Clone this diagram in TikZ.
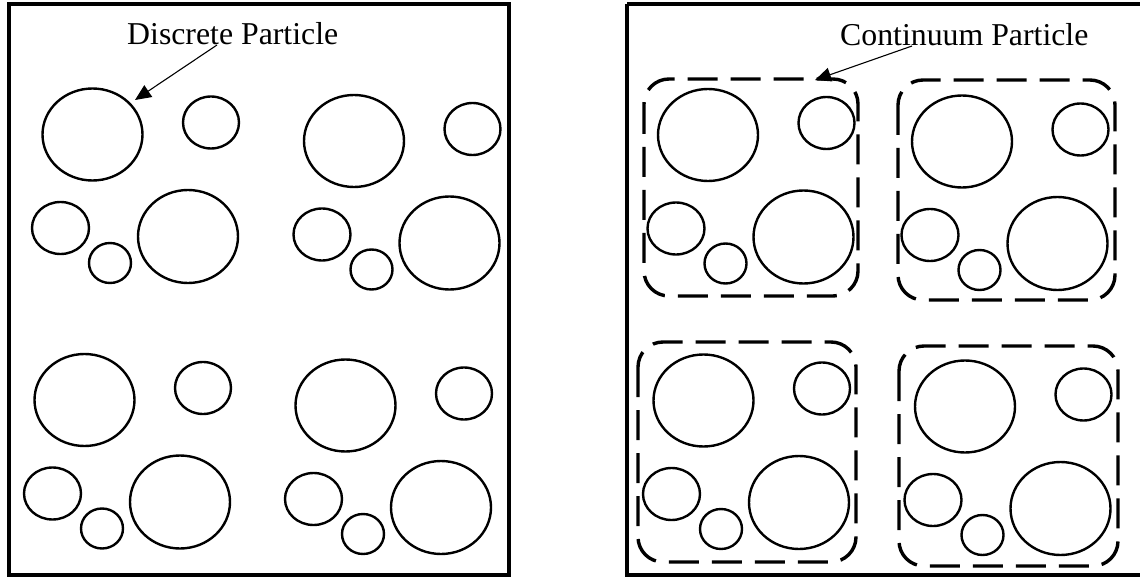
\documentclass[tikz,border=0pt]{standalone}
\usepackage{fontspec}
\setmainfont{Liberation Serif}
\usetikzlibrary{arrows.meta}
\tikzset{
  frame/.style={line width=3.6pt},
  particle/.style={line width=2.4pt},
  cluster/.style={line width=3.4pt, dash pattern=on 30pt off 13pt, rounded corners=25pt},
  lbl/.style={anchor=base west, inner sep=0pt, font=\fontsize{31.8}{36}\selectfont},
  pointer/.style={line width=1.1pt, -{Triangle[length=16pt,width=14pt]}}
}
\newcommand{\grp}[2]{%
  \begin{scope}[shift={(#1,#2)}]
    \draw[particle] (0,0) ellipse [x radius=50, y radius=46];
    \draw[particle] (118.5,-12) ellipse [x radius=28, y radius=26];
    \draw[particle] (-32,93.5) ellipse [x radius=28.5, y radius=26];
    \draw[particle] (17.5,128.5) ellipse [x radius=21, y radius=20];
    \draw[particle] (95.5,102) ellipse [x radius=50, y radius=46.5];
  \end{scope}}
\begin{document}
\begin{tikzpicture}[x=1pt,y=-1pt]
\useasboundingbox (0,0) rectangle (1140,577);
\fill[white] (0,0) rectangle (1140,577);
% frames
\draw[frame] (9,4) rectangle (509,575);
\draw[frame] (627,4) -- (1150,4);
\draw[frame] (627,4) -- (627,575) -- (1150,575);
% left panel
\grp{92.5}{134.5}
\grp{354}{141}
\grp{84.5}{400}
\grp{345.5}{405.5}
% right panel
\grp{708}{135}
\grp{962}{141.5}
\grp{703.5}{400.5}
\grp{965}{406.5}
% clusters
\draw[cluster] (644,79) rectangle (858,296);
\draw[cluster] (898,80) rectangle (1115,300);
\draw[cluster] (638,342) rectangle (856,562);
\draw[cluster] (899,346) rectangle (1118,566);
% labels
\node[lbl] (dlabel) at (127,45) {Discrete Particle};
\node[lbl] (clabel) at (840,46) {Continuum Particle};
\coordinate (dstart) at (217,45);
\coordinate (dtip) at (135,100);
\coordinate (cstart) at (912,46);
\coordinate (ctip) at (815,80);
\draw[pointer] (dstart) -- (dtip);
\draw[pointer] (cstart) -- (ctip);
\end{tikzpicture}
\end{document}
